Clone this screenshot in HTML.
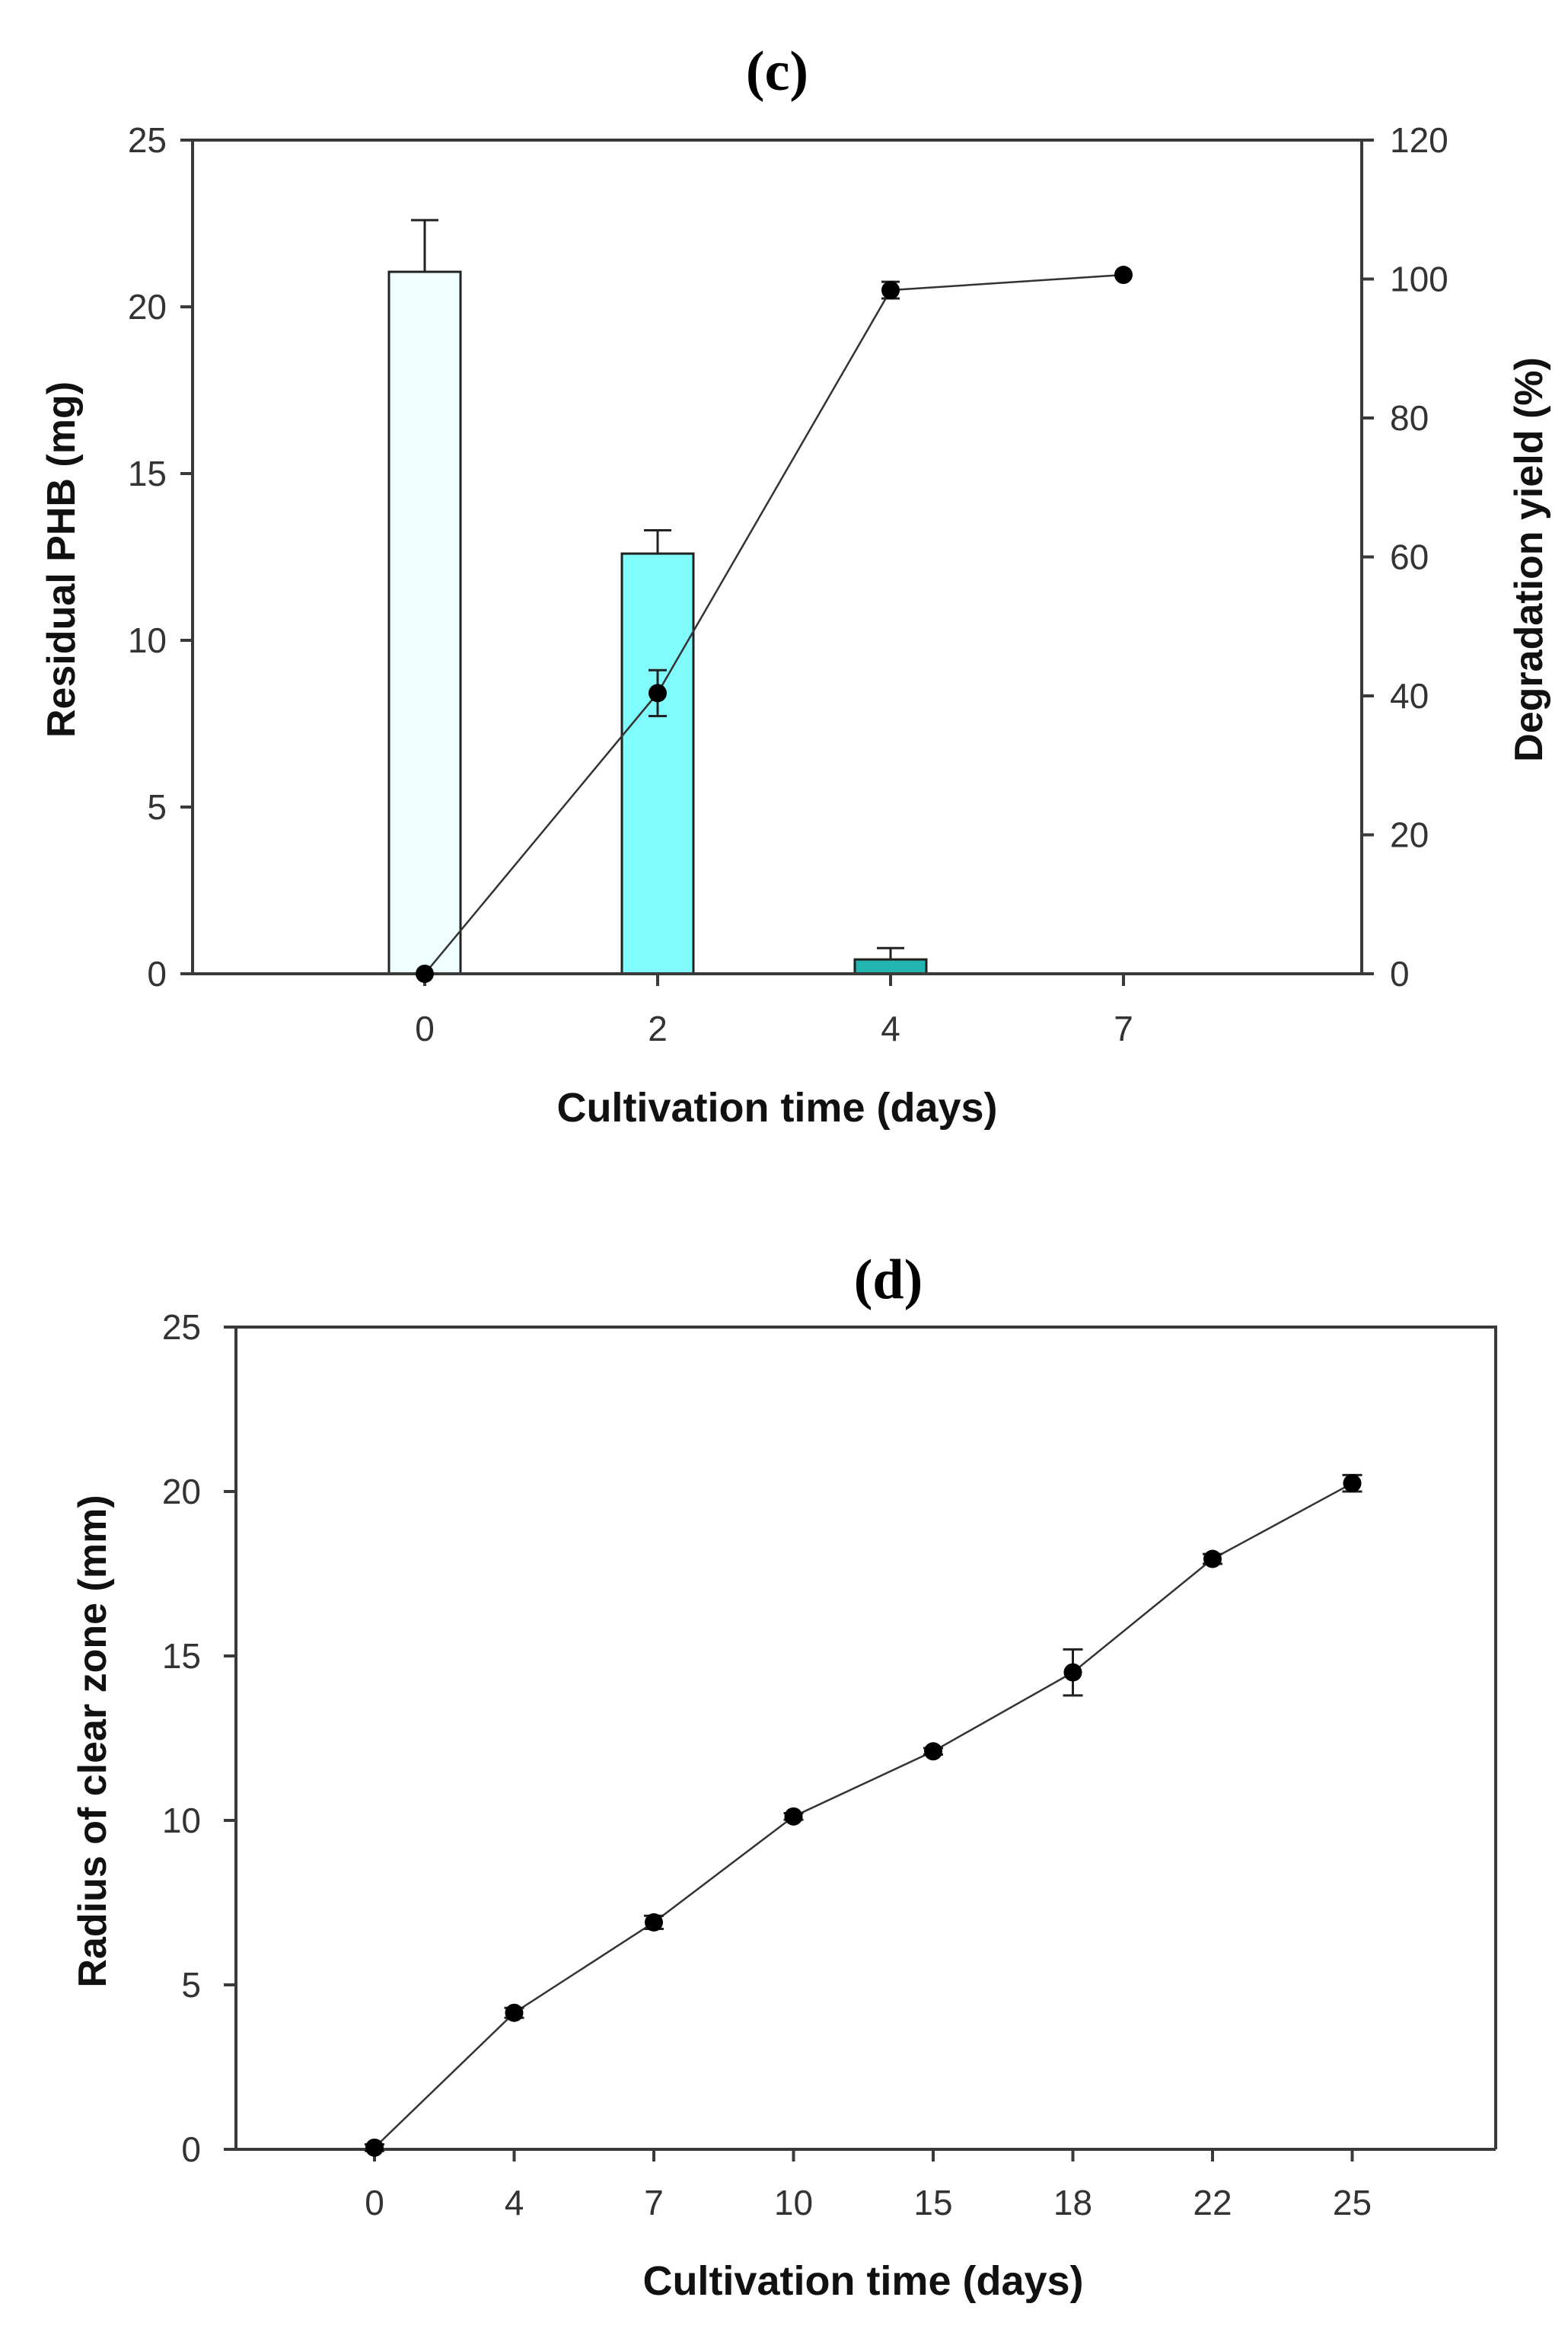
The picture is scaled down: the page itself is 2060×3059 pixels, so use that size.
<!DOCTYPE html>
<html><head><meta charset="utf-8"><style>
html,body{margin:0;padding:0;background:#fff;}
svg{display:block;}
text{font-family:"Liberation Sans",Arial,sans-serif;}
text.serif{font-family:"Liberation Serif","Times New Roman",serif;}
</style></head><body>
<svg id="fig" width="2060" height="3059" viewBox="0 0 2060 3059" xmlns="http://www.w3.org/2000/svg">
<g id="chartC"></g>
<g id="chartD"></g>
</svg>
<script>
// ---- Chart (c) data ----
const cCategories = ["0","2","4","7"];
const cBarValues = [21.05, 12.6, 0.43, 0];
const cBarErrors = [1.55, 0.7, 0.34, 0];
const cBarColors = ["#effefe","#80fcfc","#22b5b0","#ffffff"];
const cLineValues = [0, 40.4, 98.4, 100.6];
const cLineErrors = [0, 3.3, 1.2, 0];
const cLeftTicks = [0,5,10,15,20,25];
const cRightTicks = [0,20,40,60,80,100,120];
// ---- Chart (d) data ----
const dCategories = ["0","4","7","10","15","18","22","25"];
const dValues = [0.05, 4.15, 6.9, 10.12, 12.1, 14.5, 17.95, 20.25];
const dErrors = [0.1, 0.15, 0.2, 0.1, 0.1, 0.7, 0.15, 0.25];
const dTicks = [0,5,10,15,20,25];

const NS = "http://www.w3.org/2000/svg";
function mk(parent, tag, attrs, text){
  const e = document.createElementNS(NS, tag);
  for (const k in attrs) e.setAttribute(k, attrs[k]);
  if (text !== undefined) e.textContent = text;
  parent.appendChild(e);
  return e;
}
const AX = "#3a3a3a";

// ===== Chart C =====
(function(){
  const g = document.getElementById('chartC');
  const L=253, R=1789, T=184, B=1279;
  const xC = i => 558 + i*306;
  const yL = v => B - (v/25)*(B-T);
  const yR = v => B - (v/120)*(B-T);

  const title = mk(g,'text',{x:1021,y:118,'text-anchor':'middle','font-size':74,'font-weight':'bold','class':'serif'},'(c)');
  
  

  cBarValues.forEach((v,i)=>{
    if (v<=0) return;
    const r = mk(g,'rect',{x:xC(i)-47,y:yL(v),width:94,height:B-yL(v),fill:cBarColors[i],stroke:'#222','stroke-width':3});
    
    
    const e = cBarErrors[i];
    if (e>0){
      const eb = mk(g,'path',{d:`M${xC(i)} ${yL(v)} V${yL(v+e)} M${xC(i)-18} ${yL(v+e)} H${xC(i)+18}`,stroke:'#222','stroke-width':3,fill:'none'});
      
      
    }
  });

  const box = mk(g,'path',{d:`M${L-16} ${T} H${R} M${L} ${T} V${B} M${L-16} ${B} H${R} M${R} ${T} V${B}`,stroke:AX,'stroke-width':4,fill:'none'});
  
  

  cLeftTicks.forEach(t=>{
    mk(g,'line',{x1:L-16,x2:L,y1:yL(t),y2:yL(t),stroke:AX,'stroke-width':4});
    const tx = mk(g,'text',{x:219,y:yL(t)+16,'text-anchor':'end','font-size':46,fill:'#333'},String(t));
    
    
  });
  cRightTicks.forEach(t=>{
    mk(g,'line',{x1:R,x2:R+16,y1:yR(t),y2:yR(t),stroke:AX,'stroke-width':4});
    const tx = mk(g,'text',{x:1826,y:yR(t)+16,'text-anchor':'start','font-size':46,fill:'#333'},String(t));
    
    
  });
  cCategories.forEach((c,i)=>{
    mk(g,'line',{x1:xC(i),x2:xC(i),y1:B,y2:B+16,stroke:AX,'stroke-width':4});
    const tx = mk(g,'text',{x:xC(i),y:1367,'text-anchor':'middle','font-size':46,fill:'#333'},c);
    
    
  });

  const pts = cLineValues.map((v,i)=>`${xC(i)},${yR(v)}`).join(' ');
  const pl = mk(g,'polyline',{points:pts,fill:'none',stroke:'#333','stroke-width':2.5});
  
  
  cLineValues.forEach((v,i)=>{
    const e = cLineErrors[i];
    if (e>0){
      mk(g,'path',{d:`M${xC(i)} ${yR(v-e)} V${yR(v+e)} M${xC(i)-12} ${yR(v-e)} H${xC(i)+12} M${xC(i)-12} ${yR(v+e)} H${xC(i)+12}`,stroke:'#222','stroke-width':3,fill:'none'});
    }
    const c = mk(g,'circle',{cx:xC(i),cy:yR(v),r:12,fill:'#000'});
    
    
  });

  const yt = mk(g,'text',{x:0,y:0,transform:'translate(98,735) rotate(-90)','text-anchor':'middle','font-size':52,'font-weight':'bold',fill:'#111'},'Residual PHB (mg)');
  
  
  const yt2 = mk(g,'text',{x:0,y:0,transform:'translate(2026,735) rotate(-90)','text-anchor':'middle','font-size':52,'font-weight':'bold',fill:'#111'},'Degradation yield (%)');
  
  
  const xt = mk(g,'text',{x:1021,y:1473,'text-anchor':'middle','font-size':54,'font-weight':'bold',fill:'#111'},'Cultivation time (days)');
  
  
})();

// ===== Chart D =====
(function(){
  const g = document.getElementById('chartD');
  const L=310, R=1965, T=1743, B=2823;
  const xC = i => 492 + i*183.5;
  const yS = v => B - (v/25)*(B-T);

  const title = mk(g,'text',{x:1167,y:1705,'text-anchor':'middle','font-size':74,'font-weight':'bold','class':'serif'},'(d)');
  
  

  const box = mk(g,'path',{d:`M${L-16} ${T} H${R} V${B} M${L} ${T} V${B} M${L-16} ${B} H${R}`,stroke:AX,'stroke-width':4,fill:'none'});
  
  

  dTicks.forEach(t=>{
    mk(g,'line',{x1:L-16,x2:L,y1:yS(t),y2:yS(t),stroke:AX,'stroke-width':4});
    const tx = mk(g,'text',{x:264,y:yS(t)+16,'text-anchor':'end','font-size':46,fill:'#333'},String(t));
    
    
  });
  dCategories.forEach((c,i)=>{
    mk(g,'line',{x1:xC(i),x2:xC(i),y1:B,y2:B+16,stroke:AX,'stroke-width':4});
    const tx = mk(g,'text',{x:xC(i),y:2909,'text-anchor':'middle','font-size':46,fill:'#333'},c);
    
    
  });

  const pts = dValues.map((v,i)=>`${xC(i)},${yS(v)}`).join(' ');
  const pl = mk(g,'polyline',{points:pts,fill:'none',stroke:'#333','stroke-width':2.5});
  
  
  dValues.forEach((v,i)=>{
    const e = dErrors[i];
    mk(g,'path',{d:`M${xC(i)} ${yS(v-e)} V${yS(v+e)} M${xC(i)-13} ${yS(v-e)} H${xC(i)+13} M${xC(i)-13} ${yS(v+e)} H${xC(i)+13}`,stroke:'#222','stroke-width':3,fill:'none'});
    const c = mk(g,'circle',{cx:xC(i),cy:yS(v),r:12,fill:'#000'});
    
    
  });

  const yt = mk(g,'text',{x:0,y:0,transform:'translate(139,2287) rotate(-90)','text-anchor':'middle','font-size':52,'font-weight':'bold',fill:'#111'},'Radius of clear zone (mm)');
  
  
  const xt = mk(g,'text',{x:1134,y:3014,'text-anchor':'middle','font-size':54,'font-weight':'bold',fill:'#111'},'Cultivation time (days)');
  
  
})();
</script>
</body></html>
